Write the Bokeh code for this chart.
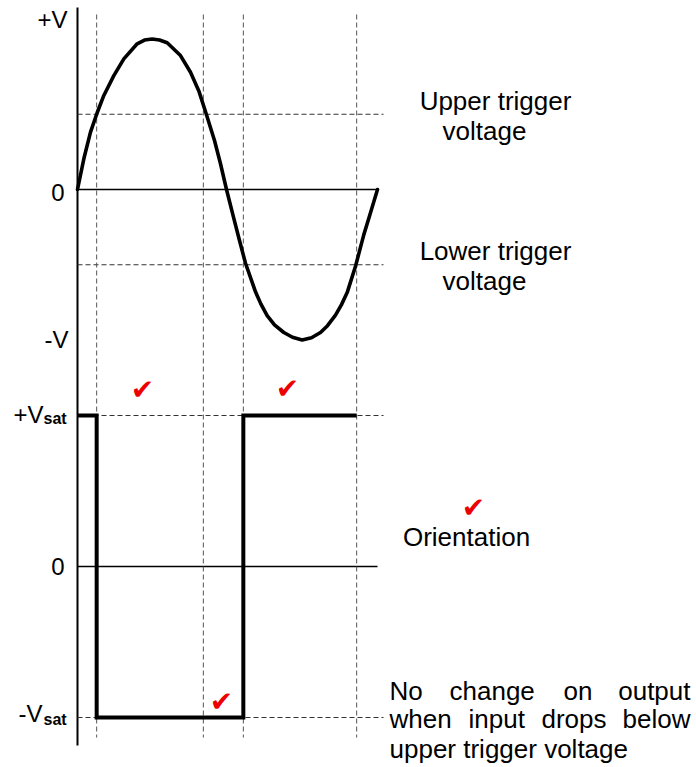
from bokeh.plotting import figure
from bokeh.models import Range1d, Label
from bokeh.embed import file_html
from bokeh.resources import INLINE

# ---------------- data ----------------
# Input waveform over one cycle: time in degrees, voltage normalised (+V = 1, -V = -1)
t_in = [0, 7.6, 15.6, 23.6, 31.6, 43.6, 55.6, 71.6, 80.4, 89.6, 98.4, 107.6, 123.6, 135.6,
        145.6, 154.4, 164.4, 171.6, 178.8, 186.8, 194.4, 201.6, 213.6, 220.0, 227.6, 236.4,
        247.6, 258.0, 269.6, 280.8, 291.6, 300.0, 309.6, 316.8, 323.6, 333.6, 343.6, 351.6,
        360]
v_in = [0, 0.204, 0.381, 0.510, 0.625, 0.757, 0.868, 0.968, 0.993, 1.0, 0.993, 0.975, 0.890,
        0.779, 0.655, 0.503, 0.326, 0.171, 0.0, -0.175, -0.339, -0.490, -0.680, -0.760,
        -0.838, -0.900, -0.950, -0.982, -1.0, -0.985, -0.950, -0.905, -0.835, -0.765,
        -0.685, -0.510, -0.300, -0.155, 0]

upper_trigger = 0.5
lower_trigger = -0.5

# times at which the input crosses the trigger levels (vertical guides)
t_cross = [23, 151, 199, 335]

# Output (Schmitt trigger) waveform, normalised (+Vsat = 1, -Vsat = -1)
t_out = [0, 23, 23, 199, 199, 335]
v_out = [1, 1, -1, -1, 1, 1]

in_ticks = ["+V", "0", "-V"]
out_tick_vals = [1, 0, -1]

# ---------------- layout helpers ----------------
W, H = 696, 767
PX_PER_DEG = 300 / 360.0
X0_PAGE = 77          # page x of t = 0
IN_ZERO, IN_SCALE = 189, 150.5
OUT_ZERO, OUT_SCALE = 566, 151.0

x_start = -X0_PAGE / PX_PER_DEG
x_end = x_start + W / PX_PER_DEG


def tin(px):
    return (px - X0_PAGE) / PX_PER_DEG


def yin(py):
    return (IN_ZERO - py) / IN_SCALE


def yout(py):
    return (OUT_ZERO - py) / OUT_SCALE


p = figure(width=W, height=H, x_range=Range1d(x_start, x_end),
           y_range=Range1d(yin(H), yin(0)),
           toolbar_location=None, output_backend="svg", min_border=0,
           x_axis_location=None, y_axis_location=None, outline_line_color=None)
p.extra_y_ranges = {"out": Range1d(yout(H), yout(0))}
p.xgrid.visible = False
p.ygrid.visible = False
p.background_fill_color = "white"
p.border_fill_color = "white"

t_guide_end = tin(383)

# vertical axis line
p.segment(x0=[0], y0=[yin(7)], x1=[0], y1=[yin(745)], line_color="black", line_width=2)

# zero lines
p.segment(x0=[0], y0=[0], x1=[360], y1=[0], line_color="black", line_width=1.3)
p.segment(x0=[0], y0=[0], x1=[360], y1=[0], line_color="black", line_width=1.3,
          y_range_name="out")

# horizontal dashed guides
p.segment(x0=[0, 0], y0=[upper_trigger, lower_trigger], x1=[t_guide_end] * 2,
          y1=[upper_trigger, lower_trigger], line_color="#333333", line_width=1,
          line_dash="5 3")
p.segment(x0=[0, 0], y0=[out_tick_vals[0], out_tick_vals[2]], x1=[t_guide_end] * 2,
          y1=[out_tick_vals[0], out_tick_vals[2]], line_color="#333333", line_width=1,
          line_dash="5 3", y_range_name="out")

# vertical dashed guides
p.segment(x0=t_cross, y0=[yin(14)] * len(t_cross), x1=t_cross,
          y1=[yin(737)] * len(t_cross), line_color="#555555", line_width=1,
          line_dash="5 3")

# waveforms
p.line(t_in, v_in, line_color="black", line_width=3.6, line_join="round", line_cap="round")
p.line(t_out, v_out, line_color="black", line_width=4, line_join="miter",
       y_range_name="out")

FONT = "Liberation Sans"
DY = 9  # baseline correction


def label(txt, px, py, size, align="left", baseline="alphabetic", color="black",
          style="normal", font=FONT, dy=DY):
    p.add_layout(Label(x=px, y=H - (py - dy), x_units="screen", y_units="screen",
                       text=txt, text_font=font, text_font_size=f"{size}px",
                       text_align=align, text_baseline=baseline, text_color=color,
                       text_font_style=style))


# left labels
LS = 24
label(in_ticks[0], 67, 28, LS, align="right")
label(in_ticks[1], 64, 201, LS, align="right")
label(in_ticks[2], 68, 348, LS, align="right")
label("+V", 43, 423, LS, align="right")
label("sat", 43, 427, 16, style="bold")
label("0", 64, 575, LS, align="right")
label("-V", 42, 722, LS, align="right")
label("sat", 43, 728, 16, style="bold")

# right annotations
FS = 26
label("Upper trigger", 495, 109, FS, align="center")
label("voltage", 484, 139, FS, align="center")
label("Lower trigger", 495, 259, FS, align="center")
label("voltage", 484, 289, FS, align="center")
label("Orientation", 466, 545, FS, align="center")

# justified paragraph (word by word)
label("No", 389, 699, FS)
label("change", 449, 699, FS)
label("on", 563, 699, FS)
label("output", 690, 699, FS, align="right")
label("when", 389, 727, FS)
label("input", 468, 727, FS)
label("drops", 541, 727, FS)
label("below", 690, 727, FS, align="right")
label("upper trigger voltage", 389, 757, FS)

# check marks
for cx, cy in [(142, 389), (287, 388), (221, 701), (473, 507)]:
    label("\u2714", cx, cy, 28, align="center", baseline="middle", color="#ee0000",
          font="DejaVu Sans", dy=0)

open("out.html", "w").write(file_html(p, INLINE))
